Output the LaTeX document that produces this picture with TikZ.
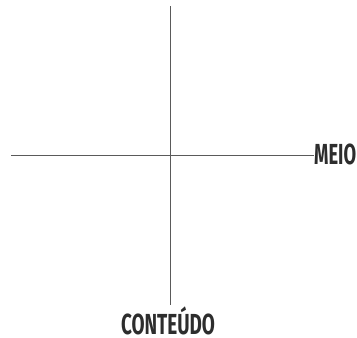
\documentclass[tikz,border=0pt]{standalone}
\usepackage{fontspec}
\setsansfont{Fira Sans}
\usetikzlibrary{positioning}
\definecolor{axisgray}{RGB}{90, 90, 90}
\definecolor{labelgray}{RGB}{45, 45, 45}

\begin{document}
\begin{tikzpicture}[
    x=1pt, y=-1pt,
    axis/.style={draw=axisgray, line width=0.9pt},
    lbl/.style={inner sep=0pt, text=labelgray, font=\sffamily\bfseries\fontsize{29}{29}\selectfont}
]
    \useasboundingbox (0,0) rectangle (357,338);
    % eixos
    \coordinate (topo) at (170,6);
    \coordinate (esq) at (11,155);
    \node[lbl, anchor=base west] (meio) at (314,164) {\resizebox{42pt}{\height}{MEIO}};
    \node[lbl, anchor=base] (conteudo) at (168,334) {\resizebox{94pt}{\height}{CONTEÚDO}};
    \draw[axis] (esq) -- (esq -| meio.west);
    \draw[axis] (topo) -- (topo |- 0,305);
\end{tikzpicture}
\end{document}
